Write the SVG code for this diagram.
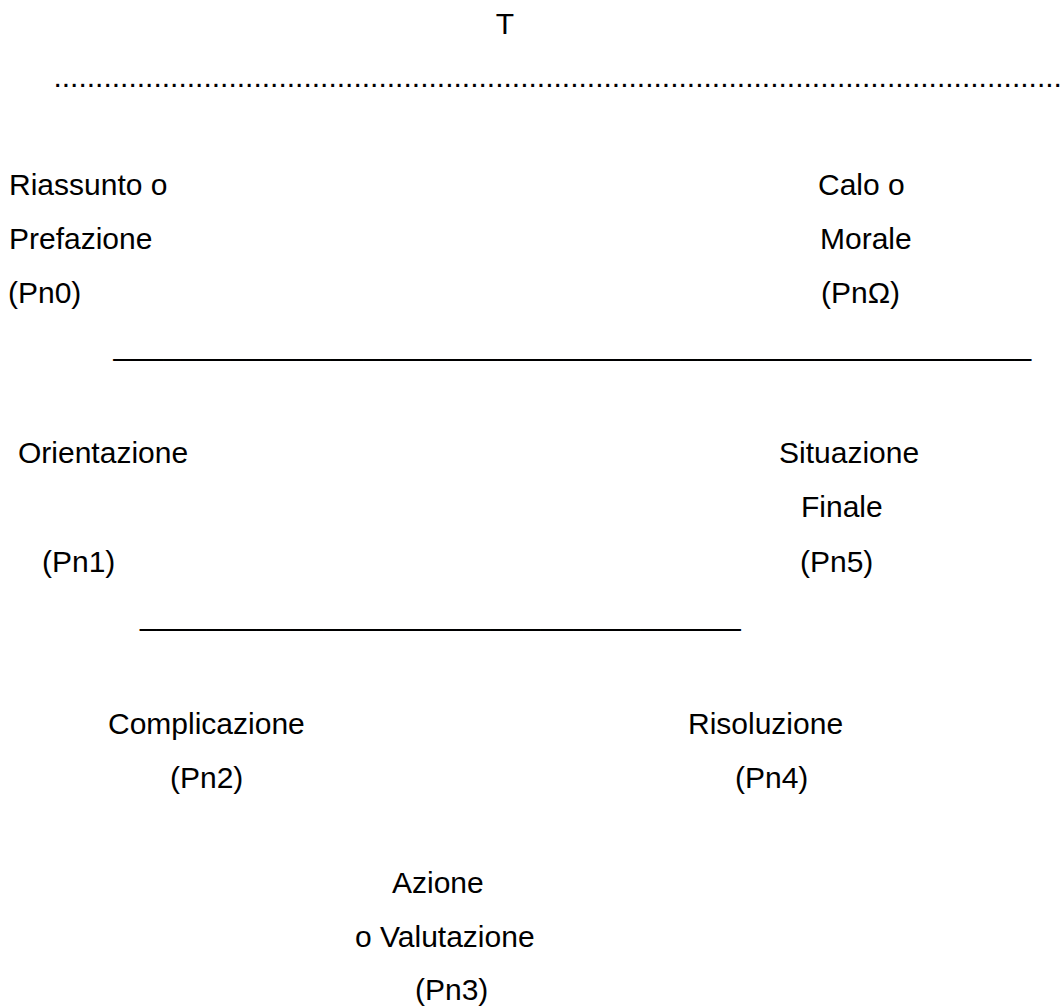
<svg xmlns="http://www.w3.org/2000/svg" width="1060" height="1007" viewBox="0 0 1060 1007">
<style>
text{font-family:"Liberation Sans",Arial,sans-serif;font-size:30px;fill:#000}
</style>
<rect width="1060" height="1007" fill="#fff"/>
<g id="title"><text x="505" y="34" text-anchor="middle">T</text></g>
<g id="connectors">
<text id="dots" x="53.4" y="87">.........................................................................................................................</text>
<text id="rule1" x="113.5" y="355">_______________________________________________________</text>
<text id="rule2" x="140" y="625">____________________________________</text>
</g>
<g id="pn0"><text x="9" y="195">Riassunto o</text><text x="9" y="249">Prefazione</text><text x="8" y="303">(Pn0)</text></g>
<g id="pnomega"><text x="818" y="195">Calo o</text><text x="820" y="249">Morale</text><text x="821" y="303">(PnΩ)</text></g>
<g id="pn1"><text x="18" y="463">Orientazione</text><text x="42" y="572">(Pn1)</text></g>
<g id="pn5"><text x="779" y="463">Situazione</text><text x="801" y="517">Finale</text><text x="800" y="572">(Pn5)</text></g>
<g id="pn2"><text x="108" y="734">Complicazione</text><text x="170" y="788">(Pn2)</text></g>
<g id="pn4"><text x="688" y="734">Risoluzione</text><text x="735" y="788">(Pn4)</text></g>
<g id="pn3"><text x="392" y="893">Azione</text><text x="355" y="947">o Valutazione</text><text x="415" y="1000">(Pn3)</text></g>
</svg>
